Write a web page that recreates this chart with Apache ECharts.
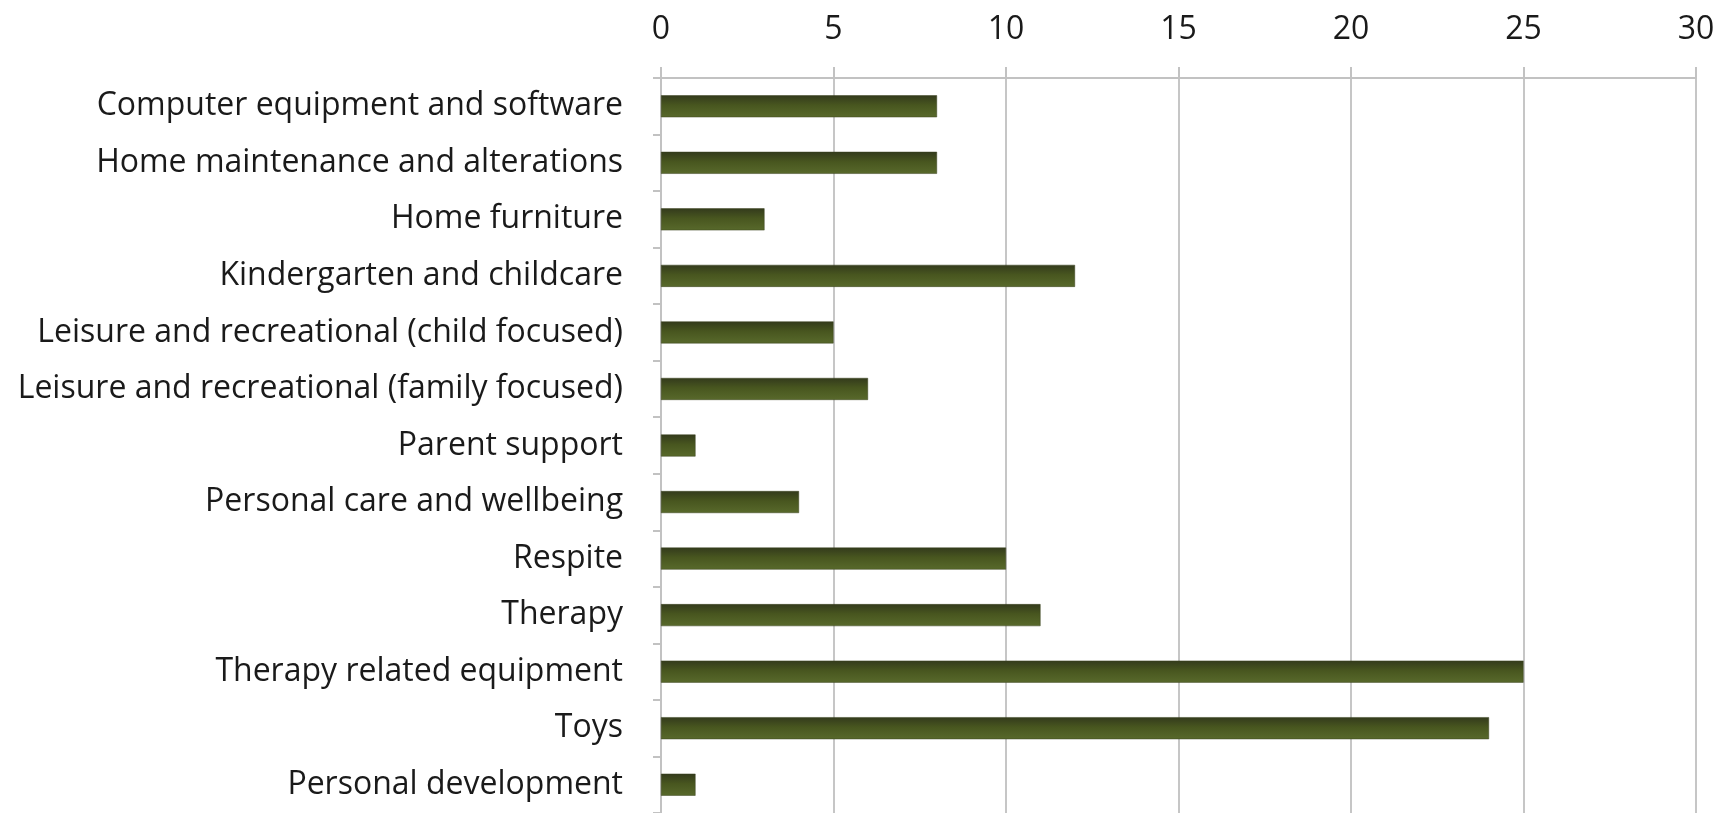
<!DOCTYPE html>
<html>
<head>
<meta charset="utf-8">
<script src="https://cdn.jsdelivr.net/npm/echarts@6/dist/echarts.min.js"></script>
<style>
  html, body { margin: 0; padding: 0; background: #fff; }
  #chart { width: 1733px; height: 813px; }
</style>
</head>
<body>
<div id="chart"></div>
<script>
// categories, top to bottom
var categories = [
  "Computer equipment and software",
  "Home maintenance and alterations",
  "Home furniture",
  "Kindergarten and childcare",
  "Leisure and recreational (child focused)",
  "Leisure and recreational (family focused)",
  "Parent support",
  "Personal care and wellbeing",
  "Respite",
  "Therapy",
  "Therapy related equipment",
  "Toys",
  "Personal development"
];
var counts = [8, 8, 3, 12, 5, 6, 1, 4, 10, 11, 25, 24, 1];
var tickValues = [0, 5, 10, 15, 20, 25, 30];

var font = "Open Sans";
var chart = echarts.init(document.getElementById("chart"));

var option = {
  animation: false,
  grid: {
    left: 661,
    width: 1035,
    top: 78,
    height: 737,
    containLabel: false
  },
  xAxis: {
    type: "value",
    position: "top",
    min: tickValues[0],
    max: tickValues[tickValues.length - 1],
    interval: 5,
    axisLine: { show: true, lineStyle: { color: "#c2c2c2", width: 2 } },
    axisTick: { show: true, length: 11, lineStyle: { color: "#c2c2c2", width: 2 } },
    axisLabel: {
      margin: 32,
      color: "#1a1a1a",
      fontFamily: font,
      fontSize: 32
    },
    splitLine: { show: true, lineStyle: { color: "#c6c6c6", width: 2 } }
  },
  yAxis: {
    type: "category",
    inverse: true,
    data: categories,
    axisLine: { show: true, lineStyle: { color: "#c2c2c2", width: 2 } },
    axisTick: { show: true, length: 8, lineStyle: { color: "#c2c2c2", width: 2 } },
    axisLabel: {
      margin: 38,
      color: "#1a1a1a",
      fontFamily: font,
      fontSize: 32
    }
  },
  series: [
    {
      type: "bar",
      data: counts,
      barWidth: 22,
      itemStyle: {
        color: new echarts.graphic.LinearGradient(0, 0, 0, 1, [
          { offset: 0, color: "#333a1c" },
          { offset: 0.45, color: "#48561f" },
          { offset: 1, color: "#58692b" }
        ]),
        borderColor: "#3a431f",
        borderWidth: 0.5
      }
    }
  ]
};

chart.setOption(option);
</script>
</body>
</html>
